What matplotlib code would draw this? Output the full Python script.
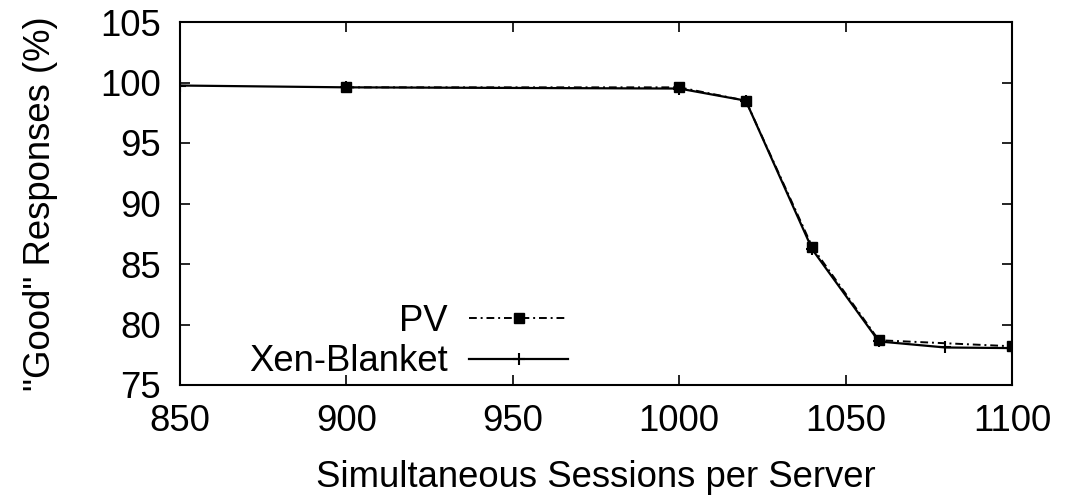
import matplotlib.pyplot as plt

# data
sessions_xen = [850, 900, 1000, 1020, 1040, 1060, 1080, 1100]
good_xen = [99.75, 99.6, 99.5, 98.5, 86.2, 78.6, 78.1, 78.05]

sessions_pv = [900, 1000, 1020, 1040, 1060, 1100]
good_pv = [99.6, 99.6, 98.5, 86.4, 78.7, 78.2]

x_ticks = [850, 900, 950, 1000, 1050, 1100]
y_ticks = [75, 80, 85, 90, 95, 100, 105]


def main():
    plt.rcParams["font.family"] = ["Liberation Sans", "DejaVu Sans"]
    fig = plt.figure(figsize=(10.66, 4.99), dpi=100)
    ax = fig.add_axes([180 / 1066, 114 / 499, 832 / 1066, 363 / 499])

    ax.plot(sessions_pv, good_pv, color="black", lw=1.4, ls=(0, (4, 2, 1, 2)),
            marker="s", ms=7.5, label="PV")
    ax.plot(sessions_xen, good_xen, color="black", lw=1.6, ls="-",
            marker="+", ms=9, mew=1.5, label="Xen-Blanket")

    ax.set_xlim(850, 1100)
    ax.set_ylim(75, 105)
    ax.set_xticks(x_ticks)
    ax.set_yticks(y_ticks)
    ax.tick_params(direction="in", length=7, width=1.2, top=True, right=True,
                   labelsize=26.3)
    ax.tick_params(axis="x", pad=14)
    ax.tick_params(axis="y", pad=14)
    for s in ax.spines.values():
        s.set_linewidth(1.5)

    ax.set_xlabel("Simultaneous Sessions per Server", fontsize=26.3, labelpad=15)
    ax.set_ylabel('"Good" Responses (%)', fontsize=26.3, labelpad=30)

    # legend
    ax.legend(loc="lower left", bbox_to_anchor=(0.065, -0.025), frameon=False,
              markerfirst=False, fontsize=26.3, handlelength=2.7,
              handletextpad=0.6, labelspacing=0.15, borderaxespad=0)

    plt.savefig("out.png", dpi=100)


if __name__ == "__main__":
    main()
